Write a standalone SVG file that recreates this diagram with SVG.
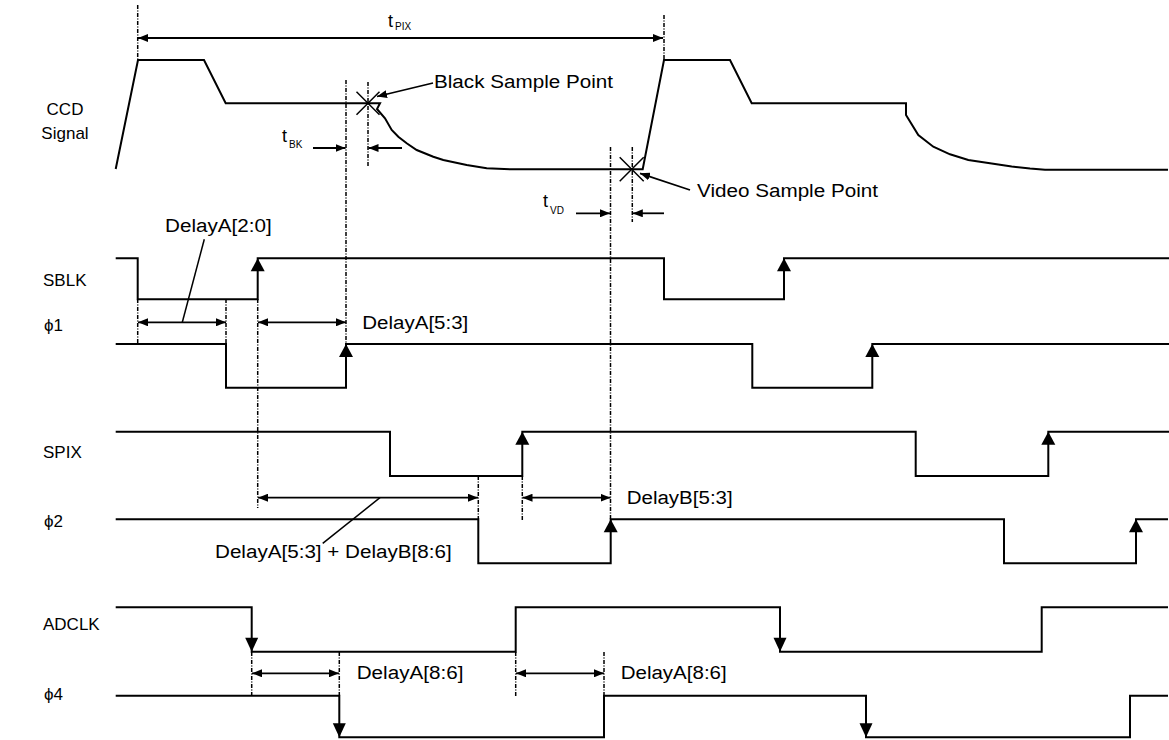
<svg xmlns="http://www.w3.org/2000/svg" width="1169" height="740" viewBox="0 0 1169 740">
<style>
.w{fill:none;stroke:#000;stroke-width:2;stroke-linejoin:miter}
.g{fill:none;stroke:#000;stroke-width:1.5;stroke-dasharray:4 1.5 1 1.5}
.d{fill:none;stroke:#000;stroke-width:1.8}
.x{fill:none;stroke:#000;stroke-width:1.5}
.t{font-family:"Liberation Sans",Arial,sans-serif;font-size:18px;fill:#000}
.s{font-family:"Liberation Sans",Arial,sans-serif;font-size:10px;fill:#000}
.n{font-family:"Liberation Sans",Arial,sans-serif;font-size:17px;fill:#000}
</style>
<defs>
<marker id="ah" viewBox="0 0 10 8" refX="10" refY="4" markerWidth="10" markerHeight="8" markerUnits="userSpaceOnUse" orient="auto-start-reverse"><path d="M0,0 L10,4 L0,8 Z"/></marker>
<path id="up" d="M0,0 L-7,13 L7,13 Z"/>
<path id="dn" d="M0,0 L-6.5,-14 L6.5,-14 Z"/>
</defs>
<rect width="1169" height="740" fill="#fff"/>

<g id="ccd">
<text class="n" x="65" y="115" text-anchor="middle">CCD</text>
<text class="n" x="65" y="139" text-anchor="middle">Signal</text>
<path class="w" d="M115.7,169 L138,60 L204,60 L225.7,103.3 L380,103.3 L377,109 L385,118.3 L391.7,130 L398.3,136.7 L406.7,143.3 L416.7,150 L433.3,156.7 L443.3,160 L466.7,165 L486.7,168.3 L510,169.3 L642.7,169.3 L664,60 L730,60 L751.7,103.3 L906,103.3 L906,115 L918.3,135 L933.3,146.7 L950,154.3 L968.3,160 L990,163.3 L1011.7,166.5 L1030,168.6 L1045,169.7 L1168,169.7"/>
<path class="x" d="M356.5,91.8 L379.5,114.8 M356.5,114.8 L379.5,91.8"/>
<path class="x" d="M619.7,157.3 L643.7,181.3 M619.7,181.3 L643.7,157.3"/>
<text class="t" x="434" y="88" textLength="179" lengthAdjust="spacingAndGlyphs">Black Sample Point</text>
<text class="t" x="697" y="197" textLength="181" lengthAdjust="spacingAndGlyphs">Video Sample Point</text>
</g>

<g id="sblk">
<text class="n" x="43" y="286">SBLK</text>
<path class="w" d="M115.7,258.3 H137.7 V299.3 H257.7 V258.3 H664 V299.3 H784 V258.3 H1169"/>
<use href="#up" x="257.7" y="258.3"/>
<use href="#up" x="784" y="258.3"/>
</g>

<g id="phi1">
<text class="n" x="44" y="331">ϕ1</text>
<path class="w" d="M115.7,344 H226 V387.7 H346 V344 H752.3 V387.7 H872.3 V344 H1169"/>
<use href="#up" x="346" y="344"/>
<use href="#up" x="872.3" y="344"/>
</g>

<g id="spix">
<text class="n" x="43" y="458">SPIX</text>
<path class="w" d="M115.7,431.7 H390 V476 H522.3 V431.7 H915.7 V476 H1048.3 V431.7 H1169"/>
<use href="#up" x="522.3" y="431.7"/>
<use href="#up" x="1048.3" y="431.7"/>
</g>

<g id="phi2">
<text class="n" x="44" y="527">ϕ2</text>
<path class="w" d="M115.7,519.3 H478.3 V563.3 H610.7 V519.3 H1004 V563.3 H1136 V519.3 H1168"/>
<use href="#up" x="610.7" y="519.3"/>
<use href="#up" x="1136" y="519.3"/>
</g>

<g id="adclk">
<text class="n" x="43" y="630">ADCLK</text>
<path class="w" d="M115.7,607.3 H251.7 V651.7 H515.7 V607.3 H780 V651.7 H1041.7 V607.3 H1168"/>
<use href="#dn" x="251.7" y="651.7"/>
<use href="#dn" x="780" y="651.7"/>
</g>

<g id="phi4">
<text class="n" x="44" y="700">ϕ4</text>
<path class="w" d="M115.7,695.7 H339.3 V737.3 H604 V695.7 H866 V737.3 H1130 V695.7 H1168"/>
<use href="#dn" x="339.3" y="737.3"/>
<use href="#dn" x="866" y="737.3"/>
</g>

<g id="connectors">
<path class="g" d="M137.7,5 V60 M664,15 V60 M346,80 V344 M368,82 V166 M610.5,147 V519 M632.3,147 V222 M137.7,299 V344 M226,299 V344 M257.7,299 V508 M478.3,476 V519 M522.3,476 V520 M251.7,652 V696 M339.3,652 V696 M515.7,652 V697 M604,652 V696"/>
<line class="d" x1="138" y1="38" x2="663" y2="38" marker-start="url(#ah)" marker-end="url(#ah)"/>
<line class="d" x1="138" y1="322.3" x2="226" y2="322.3" marker-start="url(#ah)" marker-end="url(#ah)"/>
<line class="d" x1="258" y1="322.3" x2="346" y2="322.3" marker-start="url(#ah)" marker-end="url(#ah)"/>
<line class="d" x1="258" y1="497.7" x2="478" y2="497.7" marker-start="url(#ah)" marker-end="url(#ah)"/>
<line class="d" x1="522.5" y1="497.7" x2="610.5" y2="497.7" marker-start="url(#ah)" marker-end="url(#ah)"/>
<line class="d" x1="252" y1="673.3" x2="339" y2="673.3" marker-start="url(#ah)" marker-end="url(#ah)"/>
<line class="d" x1="516" y1="673.3" x2="604" y2="673.3" marker-start="url(#ah)" marker-end="url(#ah)"/>
<line class="d" x1="313" y1="148" x2="345.5" y2="148" marker-end="url(#ah)"/>
<line class="d" x1="402" y1="148" x2="368.5" y2="148" marker-end="url(#ah)"/>
<line class="d" x1="576" y1="213.3" x2="610" y2="213.3" marker-end="url(#ah)"/>
<line class="d" x1="664" y1="213.3" x2="632.8" y2="213.3" marker-end="url(#ah)"/>
<line class="x" x1="182.3" y1="322.3" x2="204.3" y2="239.3"/>
<line class="x" x1="380" y1="497.7" x2="322.7" y2="543.3"/>
<line class="d" x1="433" y1="83" x2="377" y2="96.5" marker-end="url(#ah)"/>
<line class="d" x1="690" y1="190" x2="640" y2="173.3" marker-end="url(#ah)"/>
</g>

<g id="labels">
<text class="t" x="388" y="27">t</text><text class="s" x="395" y="30">PIX</text>
<text class="t" x="282" y="142">t</text><text class="s" x="289" y="148">BK</text>
<text class="t" x="543" y="207">t</text><text class="s" x="550" y="213.5">VD</text>
<text class="t" x="165" y="231.7" textLength="106.7" lengthAdjust="spacingAndGlyphs">DelayA[2:0]</text>
<text class="t" x="362.3" y="328.5" textLength="106" lengthAdjust="spacingAndGlyphs">DelayA[5:3]</text>
<text class="t" x="215" y="558" textLength="236.7" lengthAdjust="spacingAndGlyphs">DelayA[5:3] + DelayB[8:6]</text>
<text class="t" x="626.7" y="504" textLength="106" lengthAdjust="spacingAndGlyphs">DelayB[5:3]</text>
<text class="t" x="356.7" y="679" textLength="106.7" lengthAdjust="spacingAndGlyphs">DelayA[8:6]</text>
<text class="t" x="620.7" y="679" textLength="106" lengthAdjust="spacingAndGlyphs">DelayA[8:6]</text>
</g>
</svg>
